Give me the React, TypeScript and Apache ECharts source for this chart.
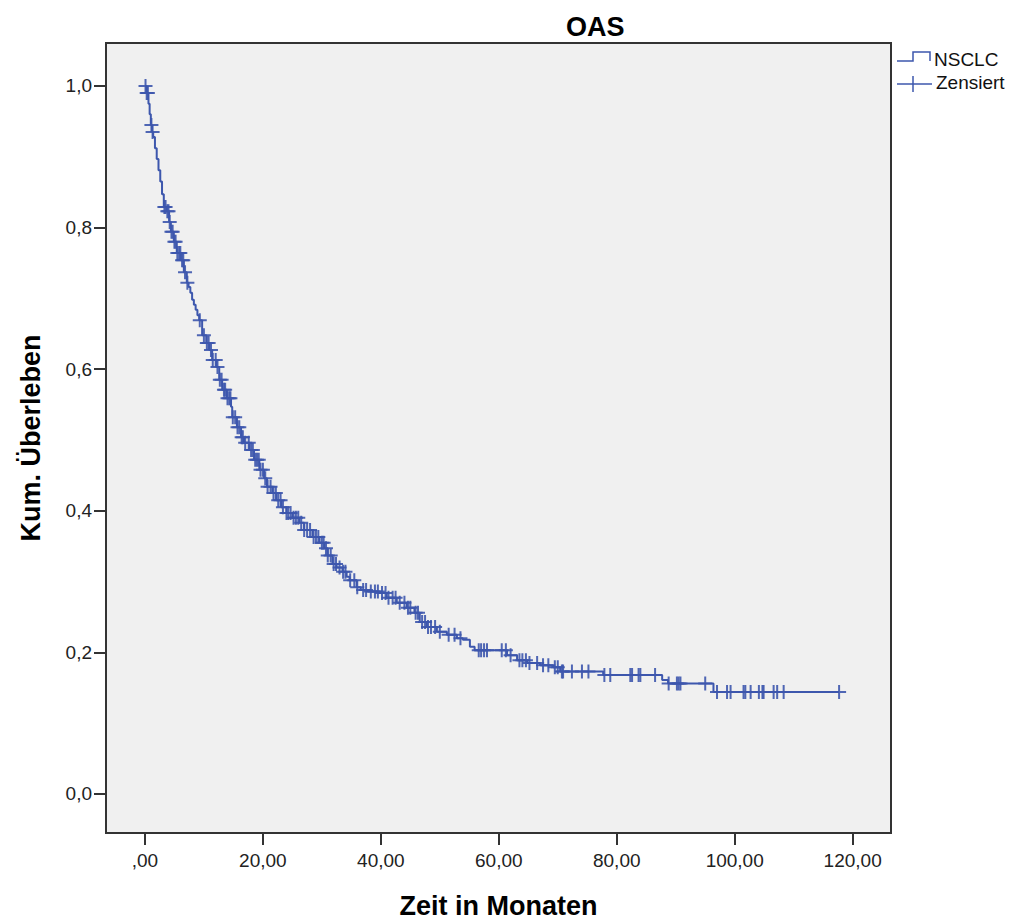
import React, { useEffect, useRef } from "react";
import * as echarts from "echarts";

// Kaplan-Meier step curve: event times (months) and cumulative survival after each event
const eventTimes = [
  0, 0.3, 0.6, 0.8, 1.0, 1.2, 1.4, 1.7, 2.0, 2.3, 2.6, 2.9, 3.2, 3.7, 4.1, 4.4, 4.9, 5.4, 6.1, 6.6,
  7.1, 7.4, 7.7, 8.0, 8.3, 8.6, 8.9, 9.2, 9.7, 10.4, 10.9, 11.4, 12.1, 12.6, 13.1, 13.9, 14.6, 14.8,
  15.6, 16.3, 16.8, 17.7, 18.5, 19.4, 20.2, 20.7, 21.6, 22.3, 23.1, 24.0, 25.0, 26.2, 27.0, 28.4,
  29.6, 30.4, 31.0, 31.8, 32.5, 33.5, 34.2, 34.7, 35.9, 36.6, 37.6, 39.8, 41.0, 42.7, 44.4, 45.7,
  46.6, 47.8, 49.5, 51.2, 52.9, 53.9, 55.1, 55.9, 61.4, 63.1, 64.8, 67.0, 69.2, 70.4, 77.7, 87.7,
  88.7, 96.4,
];
const survival = [
  1.0, 0.99, 0.975, 0.96, 0.945, 0.935, 0.928, 0.912, 0.897, 0.881, 0.865, 0.847, 0.829, 0.823,
  0.808, 0.794, 0.78, 0.764, 0.754, 0.737, 0.722, 0.716, 0.708, 0.698, 0.691, 0.684, 0.676, 0.669,
  0.648, 0.637, 0.627, 0.613, 0.603, 0.585, 0.571, 0.559, 0.547, 0.532, 0.518, 0.504, 0.496, 0.486,
  0.472, 0.458, 0.446, 0.434, 0.425, 0.415, 0.405, 0.397, 0.39, 0.383, 0.373, 0.363, 0.355, 0.347,
  0.337, 0.325, 0.32, 0.314, 0.307, 0.302, 0.292, 0.288, 0.286, 0.284, 0.277, 0.27, 0.263, 0.256,
  0.243, 0.236, 0.229, 0.225, 0.22, 0.218, 0.208, 0.203, 0.196, 0.189, 0.185, 0.182, 0.179, 0.173,
  0.168, 0.161, 0.156, 0.144,
];
const lastFollowUp = 117.7;

// Censored observations (months)
const censorTimes = [
  0.1, 0.3, 0.5, 1.1, 1.3,
  3.3, 3.5, 3.8, 4.0, 4.2, 4.5, 4.7, 5.0, 5.2, 5.5, 5.8, 6.0, 6.3, 6.5, 6.8, 7.2,
  9.3, 10.0, 10.5, 10.8, 11.2, 11.5, 12.0, 12.3, 12.7, 13.0, 13.4, 13.6, 14.0, 14.3, 14.5, 14.9,
  15.3, 15.7, 16.0, 16.4, 16.6, 17.0, 17.6, 18.0, 18.3, 18.7, 19.0, 19.3, 19.6, 20.0, 20.4, 20.8,
  21.3, 21.8, 22.2, 22.6, 23.0, 23.4, 24.0, 24.3, 24.7, 25.2, 25.6, 26.0, 26.5, 27.0, 27.5, 28.0,
  28.6, 29.0, 29.4, 30.0, 30.3, 30.7, 31.0, 31.5, 32.0, 32.4, 33.0, 33.6, 34.0, 34.8, 35.5, 36.0,
  37.0, 37.5, 38.3, 39.0, 39.5, 40.2, 40.8, 41.3, 42.0, 42.5, 43.2, 44.0, 44.6, 45.0, 45.9, 46.3,
  47.0, 47.5, 48.0, 48.5, 49.2, 50.0, 51.5, 52.5, 53.5,
  56.6, 57.0, 57.5, 58.0, 60.5, 61.2, 62.0, 63.5, 64.0, 64.6, 65.2, 66.5, 67.5, 68.4, 69.5, 70.0,
  70.7, 70.9, 72.4, 74.1, 75.2, 77.9, 78.9, 82.3, 82.6, 83.7, 84.0, 86.5, 88.8, 90.2, 90.5, 90.8,
  95.0, 97.0, 98.7, 99.3, 101.5, 101.8, 102.7, 104.1, 104.7, 104.9, 106.6, 107.2, 108.3, 117.7,
];

const xTicks = [0, 20, 40, 60, 80, 100, 120];
const yTicks = [0, 0.2, 0.4, 0.6, 0.8, 1.0];

const COLOR = "#3d57ad";
const FONT = "Liberation Sans, Arial, sans-serif";

function survivalAt(t: number): number {
  let s = 1;
  for (let i = 0; i < eventTimes.length; i++) {
    if (eventTimes[i] <= t) s = survival[i];
  }
  return s;
}

const plusPath = "path://M6,0h2v6h6v2h-6v6h-2v-6h-6v-2h6z";

export default function App() {
  const ref = useRef<HTMLDivElement>(null);

  useEffect(() => {
    if (!ref.current) return;
    const chart = echarts.init(ref.current, null, { renderer: "svg" });

    const curve: [number, number][] = eventTimes.map((t, i) => [t, survival[i]]);
    curve.push([lastFollowUp, survivalAt(lastFollowUp)]);
    const censors = censorTimes.map((t) => [t, survivalAt(t)]);

    const option: any = {
      animation: false,
      backgroundColor: "#ffffff",
      title: {
        text: "OAS",
        left: 561,
        top: 8,
        textStyle: { fontFamily: FONT, fontSize: 27, fontWeight: "bold", color: "#000" },
      },
      grid: {
        left: 106,
        top: 43,
        width: 785,
        height: 790,
        outerBoundsMode: "none",
        containLabel: false,
        show: true,
        backgroundColor: "#f0f0f0",
        borderColor: "#333333",
        borderWidth: 2,
      },
      xAxis: {
        type: "value",
        min: -6.6,
        max: 126.5,
        name: "Zeit in Monaten",
        nameLocation: "middle",
        nameGap: 59,
        nameTextStyle: { fontFamily: FONT, fontSize: 27, fontWeight: "bold", color: "#000" },
        axisLine: { show: false, onZero: false },
        splitLine: { show: false },
        axisTick: {
          show: true,
          length: 12,
          customValues: xTicks,
          lineStyle: { color: "#333", width: 2 },
        },
        axisLabel: {
          customValues: xTicks,
          margin: 18,
          fontFamily: FONT,
          fontSize: 19,
          color: "#222",
          formatter: (v: number) => (v === 0 ? ",00" : v.toFixed(2).replace(".", ",")),
        },
      },
      yAxis: {
        type: "value",
        min: -0.0551,
        max: 1.0607,
        name: "Kum. Überleben",
        nameLocation: "middle",
        nameGap: 62,
        nameTextStyle: { fontFamily: FONT, fontSize: 27, fontWeight: "bold", color: "#000" },
        axisLine: { show: false, onZero: false },
        splitLine: { show: false },
        axisTick: {
          show: true,
          length: 12,
          customValues: yTicks,
          lineStyle: { color: "#333", width: 2 },
        },
        axisLabel: {
          customValues: yTicks,
          margin: 14,
          fontFamily: FONT,
          fontSize: 19,
          color: "#222",
          formatter: (v: number) => v.toFixed(1).replace(".", ","),
        },
      },
      series: [
        {
          name: "NSCLC",
          type: "line",
          step: "end",
          data: curve,
          showSymbol: false,
          symbol: "none",
          lineStyle: { color: COLOR, width: 2 },
          z: 2,
        },
        {
          name: "Zensiert",
          type: "scatter",
          data: censors,
          symbol: plusPath,
          symbolSize: 14,
          itemStyle: { color: COLOR, opacity: 0.9 },
          z: 3,
        },
      ],
      graphic: [
        {
          type: "polyline",
          shape: { points: [[897, 61], [913, 61], [913, 52], [930, 52], [930, 61]] },
          style: { stroke: COLOR, lineWidth: 1.5, fill: null },
        },
        {
          type: "text",
          left: 934,
          top: 50,
          style: { text: "NSCLC", font: `19px ${FONT}`, fill: "#111" },
        },
        {
          type: "line",
          shape: { x1: 897, y1: 84, x2: 932, y2: 84 },
          style: { stroke: COLOR, lineWidth: 1.5 },
        },
        {
          type: "line",
          shape: { x1: 913, y1: 76, x2: 913, y2: 92 },
          style: { stroke: COLOR, lineWidth: 1.5 },
        },
        {
          type: "text",
          left: 936,
          top: 73,
          style: { text: "Zensiert", font: `19px ${FONT}`, fill: "#111" },
        },
      ],
    };

    chart.setOption(option);
    return () => chart.dispose();
  }, []);

  return (
    <div
      ref={ref}
      style={{ position: "absolute", left: 0, top: 0, width: 1016, height: 920 }}
    />
  );
}
